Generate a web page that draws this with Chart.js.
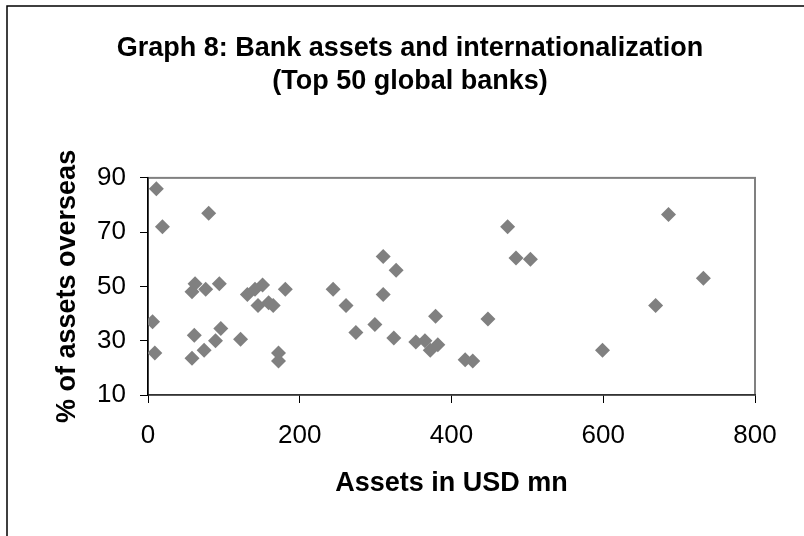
<!DOCTYPE html>
<html>
<head>
<meta charset="utf-8">
<script src="https://cdn.jsdelivr.net/npm/chart.js@4/dist/chart.umd.min.js"></script>
<style>
  html, body { margin: 0; padding: 0; background: #fff; }
  #wrap { position: absolute; left: 0; top: 0; width: 804px; height: 536px; }
</style>
</head>
<body>
<div id="wrap"><canvas id="c" width="804" height="536"></canvas></div>
<script>
// Assets (USD mn) and share of assets overseas (%) for top 50 global banks
const assets = [11, 80, 19, 62, 58, 76, 94, 131, 141, 151, 145, 159, 165, 181,
  6, 61, 96, 89, 122, 9, 74, 58, 172, 172,
  244, 310, 327, 310, 261, 379, 299, 274, 324, 353, 365, 372, 382, 418,
  428, 448, 474, 485, 504, 599, 669, 686, 732];
const overseasPct = [86, 77, 72, 51, 48, 49, 51, 47, 49, 50.5, 43, 44, 43, 49,
  37, 32, 34.5, 30, 30.5, 25.5, 26.5, 23.5, 25.5, 22.5,
  49, 61, 56, 47, 43, 39, 36, 33, 31, 29.5, 30, 26.5, 28.5, 23,
  22.5, 38, 72, 60.5, 60, 26.5, 43, 76.5, 53];
const xTickValues = [0, 200, 400, 600, 800];
const yTickValues = [10, 30, 50, 70, 90];
const titleLines = ['Graph 8: Bank assets and internationalization', '(Top 50 global banks)'];
const xTitle = 'Assets in USD mn';
const yTitle = '% of assets overseas';

const FONT = "'Liberation Sans', Arial, Helvetica, sans-serif";

const points = assets.map((a, i) => ({ x: a, y: overseasPct[i] }));

const framePlugin = {
  id: 'frame',
  beforeDraw(chart) {
    const ctx = chart.ctx;
    const a = chart.chartArea;
    ctx.save();
    ctx.fillStyle = '#fff';
    ctx.fillRect(0, 0, chart.width, chart.height);
    // outer picture border (left and top)
    ctx.strokeStyle = '#000';
    ctx.lineWidth = 1.5;
    ctx.beginPath();
    ctx.moveTo(7, chart.height);
    ctx.lineTo(7, 6);
    ctx.lineTo(chart.width, 6);
    ctx.stroke();
    // plot area frame
    ctx.strokeStyle = '#808080';
    ctx.lineWidth = 2;
    ctx.strokeRect(a.left, a.top, a.right - a.left, a.bottom - a.top);
    ctx.restore();
  }
};

new Chart(document.getElementById('c'), {
  type: 'scatter',
  data: {
    datasets: [{
      data: points,
      xAxisID: 'x',
      yAxisID: 'y',
      pointStyle: 'rectRot',
      pointRadius: 7.5,
      pointHoverRadius: 7.5,
      backgroundColor: '#808080',
      borderColor: '#808080',
      borderWidth: 0
    }]
  },
  options: {
    responsive: false,
    animation: false,
    layout: { padding: { left: 16, right: 0, top: 0, bottom: 0 } },
    plugins: {
      legend: { display: false },
      tooltip: { enabled: false },
      title: {
        display: true,
        text: titleLines,
        color: '#000',
        font: { family: FONT, size: 27, weight: 'bold', lineHeight: 1.22 },
        padding: { top: 32.5, bottom: 79.5 }
      }
    },
    scales: {
      x: {
        type: 'linear',
        min: xTickValues[0],
        max: xTickValues[xTickValues.length - 1],
        afterBuildTicks(scale) { scale.ticks = xTickValues.map(v => ({ value: v })); },
        afterFit(scale) { scale.height = 141; },
        grid: { drawOnChartArea: false, drawTicks: true, tickLength: 8, color: '#000', lineWidth: 1 },
        border: { display: true, color: '#333', width: 1.5 },
        ticks: { color: '#000', padding: 17, font: { family: FONT, size: 26 } },
        title: {
          display: true, text: xTitle, color: '#000',
          font: { family: FONT, size: 27, weight: 'bold' },
          padding: { top: 0, bottom: 36 }
        }
      },
      y: {
        type: 'linear',
        position: 'left',
        min: yTickValues[0],
        max: yTickValues[yTickValues.length - 1],
        afterBuildTicks(scale) { scale.ticks = yTickValues.map(v => ({ value: v })); },
        afterFit(scale) { scale.width = 132; },
        grid: { drawOnChartArea: false, drawTicks: true, tickLength: 8, color: '#000', lineWidth: 1 },
        border: { display: true, color: '#000', width: 1.5 },
        ticks: { color: '#000', padding: 14, font: { family: FONT, size: 26 } },
        title: {
          display: true, text: yTitle, color: '#000',
          font: { family: FONT, size: 27, weight: 'bold' },
          padding: { top: 35, bottom: 0 }
        }
      },
      yRight: {
        type: 'linear',
        position: 'right',
        min: yTickValues[0],
        max: yTickValues[yTickValues.length - 1],
        afterFit(scale) { scale.width = 49; },
        grid: { display: false, drawTicks: false },
        border: { display: false },
        ticks: { display: false },
        title: { display: false }
      }
    }
  },
  plugins: [framePlugin]
});
</script>
</body>
</html>
